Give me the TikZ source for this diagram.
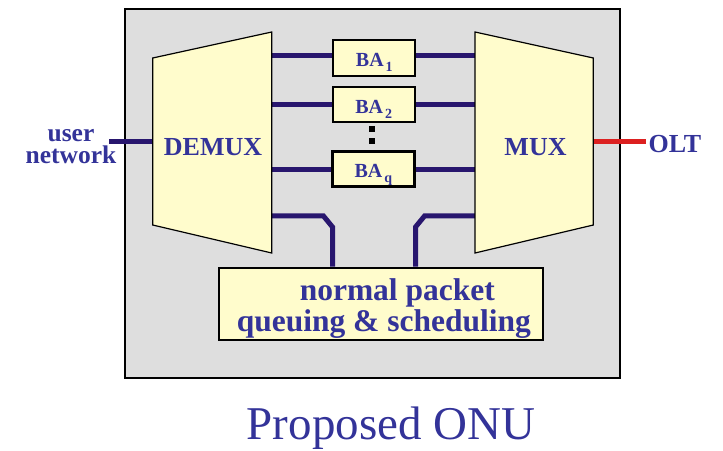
\documentclass[tikz,border=0pt]{standalone}
\usepackage{fontspec}
\setmainfont{Liberation Serif}
\definecolor{txt}{RGB}{51,51,153}
\definecolor{navyline}{RGB}{40,22,110}
\definecolor{redline}{RGB}{220,32,32}
\definecolor{paleyellow}{RGB}{255,252,204}
\definecolor{panelgray}{RGB}{222,222,222}
\tikzset{
  panelbox/.style={draw=black, line width=2pt, fill=panelgray, inner sep=0pt},
  trap/.style={draw=black, line width=1.2pt, fill=paleyellow},
  bus/.style={draw=navyline, line width=5pt},
  redbus/.style={draw=redline, line width=5pt},
  babox/.style={draw=black, line width=2pt, fill=paleyellow, minimum width=82pt, minimum height=35.5pt,
    inner sep=0pt, text height=17pt, text depth=0pt, font=\fontsize{20}{20}\selectfont\bfseries, text=txt},
  qbox/.style={draw=black, line width=2pt, fill=paleyellow, inner sep=0pt},
  lbl/.style={text=txt, font=\fontsize{26}{26}\selectfont\bfseries, inner sep=0pt, anchor=base},
  biglbl/.style={text=txt, font=\fontsize{31.5}{31.5}\selectfont\bfseries, inner sep=0pt, anchor=base},
  dotsq/.style={fill=black, inner sep=0pt, minimum size=5.7pt},
}
\newcommand{\subs}[1]{\kern2pt\raisebox{-5pt}{\fontsize{14}{14}\selectfont #1}}
\begin{document}
\begin{tikzpicture}[x=1pt,y=-1pt]
\useasboundingbox (0,0) rectangle (723,450);
% panel
\node[panelbox, minimum width=494.7pt, minimum height=369pt] (panel) at (372.4,193.5) {};
% port coordinates
\coordinate (dmA) at (271.7,55.7);
\coordinate (dmB) at (271.7,104);
\coordinate (dmC) at (271.7,169);
\coordinate (dmD) at (271.7,215.8);
\coordinate (dmIn) at (152.7,141.7);
\coordinate (mxA) at (475,55.7);
\coordinate (mxB) at (475,104);
\coordinate (mxC) at (475,169);
\coordinate (mxD) at (475,215.8);
\coordinate (mxOut) at (593.3,141.7);
\coordinate (unEnd) at (109,141.7);
\coordinate (oltEnd) at (645.7,141.7);
\coordinate (bendL) at (332.5,227);
\coordinate (bendR) at (415.5,227);
% boxes (nodes)
\node[babox] (ba1) at (374.3,58) {BA\subs{1}};
\node[babox] (ba2) at (373.7,104.5) {BA\subs{2}};
\node[babox, line width=3pt, minimum width=82.3pt, minimum height=35.3pt] (baq) at (373.3,169.2) {BA\subs{q}};
\node[qbox, minimum width=324.3pt, minimum height=72pt] (npq) at (380.8,303.7) {};
% buses
\draw[bus] (unEnd) -- (dmIn);
\draw[bus] (dmA) -- (dmA -| ba1.west);
\draw[bus] (ba1.east |- mxA) -- (mxA);
\draw[bus] (dmB) -- (dmB -| ba2.west);
\draw[bus] (ba2.east |- mxB) -- (mxB);
\draw[bus] (dmC) -- (dmC -| baq.west);
\draw[bus] (baq.east |- mxC) -- (mxC);
\draw[bus] (dmD) -- (323.3,215.8) -- (bendL) -- (bendL |- npq.north);
\draw[bus] (mxD) -- (424.7,215.8) -- (bendR) -- (bendR |- npq.north);
\draw[redbus] (mxOut) -- (oltEnd);
% redraw boxes on top
\node[babox] at (ba1) {BA\subs{1}};
\node[babox] at (ba2) {BA\subs{2}};
\node[babox, line width=3pt, minimum width=82.3pt, minimum height=35.3pt] at (baq) {BA\subs{q}};
\node[qbox, minimum width=324.3pt, minimum height=72pt] at (npq) {};
% trapezoids
\draw[trap] (152.7,58) -- (271.7,32) -- (271.7,253) -- (152.7,225) -- cycle;
\draw[trap] (475,32) -- (593.3,58) -- (593.3,225) -- (475,253) -- cycle;
% dots
\node[dotsq] (dot1) at (372.2,129.3) {};
\node[dotsq] (dot2) at (372.2,141) {};
% labels
\node[lbl] (demux) at (213,155.7) {DEMUX};
\node[lbl] (mux) at (535.5,155.7) {MUX};
\node[lbl] (olt) at (675,152.3) {OLT};
\node[lbl, align=center, font=\fontsize{25.5}{22}\selectfont\bfseries] (usernet) at (71,163.6) {user\\network};
\node[biglbl] (np1) at (397.3,300) {normal packet};
\node[biglbl] (np2) at (383.8,331.7) {queuing \& scheduling};
\node[text=txt, font=\fontsize{47}{47}\selectfont, inner sep=0pt, anchor=base] (title) at (391,439.3) {Proposed ONU};
\end{tikzpicture}
\end{document}
